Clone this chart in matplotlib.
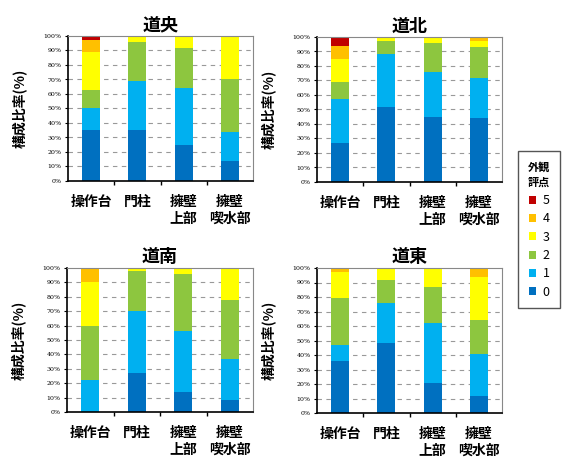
import matplotlib.pyplot as plt
import numpy as np
from matplotlib.patches import Patch

plt.rcParams['font.family'] = ['Noto Sans CJK JP', 'DejaVu Sans']

categories = ['操作台', '門柱', '擁壁\n上部', '擁壁\n喫水部']
scores = ['0', '1', '2', '3', '4', '5']
colors = ['#0070C0', '#00B0F0', '#8DC63F', '#FFFF00', '#FFC000', '#C00000']

# share (%) of each score, per category, for each region
douo = [[35, 35, 25, 14],
        [15, 34, 39, 20],
        [13, 27, 28, 36],
        [26, 4, 8, 30],
        [8, 0, 0, 0],
        [3, 0, 0, 0]]
dohoku = [[27, 52, 45, 44],
          [30, 36, 31, 28],
          [12, 9, 20, 21],
          [16, 3, 3, 4],
          [9, 0, 1, 3],
          [6, 0, 0, 0]]
donan = [[0, 27, 14, 8],
         [22, 43, 42, 29],
         [38, 28, 40, 41],
         [30, 2, 4, 22],
         [10, 0, 0, 0],
         [0, 0, 0, 0]]
doto = [[36, 48, 21, 12],
        [11, 28, 41, 29],
        [32, 16, 25, 23],
        [18, 8, 13, 30],
        [3, 0, 0, 6],
        [0, 0, 0, 0]]

regions = ['道央', '道北', '道南', '道東']
region_data = [douo, dohoku, donan, doto]

fig = plt.figure(figsize=(5.63, 4.65), dpi=100, facecolor='white')
W, H = 563, 465
boxes = [(68, 36, 253, 181), (317, 37, 502, 182),
         (67, 268, 253, 412), (317, 268, 502, 413)]

for name, data, (x0, y0, x1, y1) in zip(regions, region_data, boxes):
    ax = fig.add_axes([x0 / W, 1 - y1 / H, (x1 - x0) / W, (y1 - y0) / H])
    x = np.arange(len(categories))
    bottom = np.zeros(len(categories))
    for vals, c in zip(data, colors):
        vals = np.array(vals, dtype=float)
        ax.bar(x, vals, 0.39, bottom=bottom, color=c, zorder=2)
        bottom += vals
    ax.set_xlim(-0.5, 3.5)
    ax.set_ylim(0, 100)
    ax.set_yticks(np.arange(0, 101, 10))
    ax.set_yticklabels([f'{v}%' for v in range(0, 101, 10)], fontsize=4.5,
                       family='DejaVu Serif')
    for v in range(10, 100, 10):
        ax.axhline(v, color='#999999', lw=0.8, ls=(0, (4, 4)), zorder=1)
    ax.set_xticks(x)
    ax.set_xticklabels(categories, fontsize=10, fontweight='bold', linespacing=1.3)
    ax.set_xticks([0.5, 1.5, 2.5], minor=True)
    ax.tick_params(axis='x', which='major', length=0, pad=10)
    ax.tick_params(axis='x', which='minor', length=3, width=1, direction='out')
    ax.tick_params(axis='y', length=2.5, width=0.8, pad=2)
    for s in ['top', 'right']:
        ax.spines[s].set_color('#888888')
        ax.spines[s].set_linewidth(0.8)
    for s in ['left', 'bottom']:
        ax.spines[s].set_linewidth(1.2)
    ax.set_title(name, fontsize=13, fontweight='bold', pad=4)
    ax.set_ylabel('構成比率(%)', fontsize=10, fontweight='bold', labelpad=12)

handles = [Patch(facecolor=c, label=s) for s, c in zip(scores, colors)][::-1]
leg = fig.legend(handles=handles, title='外観\n評点', loc='upper left',
                 bbox_to_anchor=(518 / W, 1 - 151 / H), fontsize=9,
                 title_fontproperties={'size': 8, 'weight': 'bold'},
                 handlelength=0.6, handleheight=0.6, handletextpad=0.5,
                 labelspacing=0.42, borderpad=0.8, borderaxespad=0,
                 fancybox=False, edgecolor='#555555', framealpha=1)

fig.savefig('out.png', dpi=100)
